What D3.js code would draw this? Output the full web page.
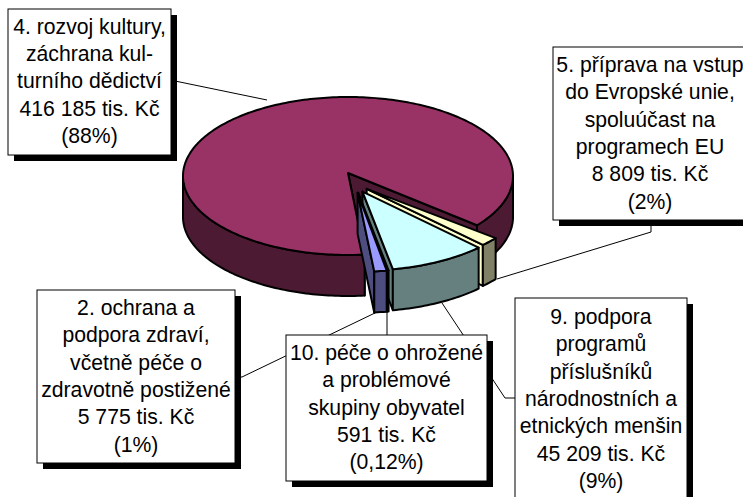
<!DOCTYPE html>
<html><head><meta charset="utf-8">
<script src="https://cdn.jsdelivr.net/npm/d3@7"></script>
<style>html,body{margin:0;padding:0;background:#fff;overflow:hidden}svg{display:block}</style>
</head><body><svg id="c" width="743" height="497"></svg>
<script>
const categories = ["4","5","9","10","2"];
const values = [416185, 8809, 45209, 591, 5775];
const topColors = ["#993366","#ffffcc","#ccffff","#669999","#9999ff"];
const sideColors = ["#4d1a33","#808066","#668080","#335050","#4d4d80"];
const labels = [
 ["4. rozvoj kultury,","záchrana kul-","turního dědictví","416 185 tis. Kč","(88%)"],
 ["5. příprava na vstup","do Evropské unie,","spoluúčast na","programech EU","8 809 tis. Kč","(2%)"],
 ["9. podpora","programů","příslušníků","národnostních a","etnických menšin","45 209 tis. Kč","(9%)"],
 ["10. péče o ohrožené","a problémové","skupiny obyvatel","591 tis. Kč","(0,12%)"],
 ["2. ochrana a","podpora zdraví,","včetně péče o","zdravotně postižené","5 775 tis. Kč","(1%)"]
];

const svg = d3.select("#c");
const cx=348, cy=176, rx=165, ry=79, depth=41;
const rad = d3.scaleLinear().domain([0,360]).range([0,2*Math.PI]);
const start = rad(174.2);
const arcs = d3.pie().sort(null).startAngle(start).endAngle(start+2*Math.PI)(values);
const TAU=2*Math.PI;

function offset(i,mid){
  if(i===0) return [0,0];
  return [7.5+15*Math.sin(mid), 4.5-12.5*Math.cos(mid)];
}
function pt(a,o,dy){return [cx+o[0]+rx*Math.sin(a), cy+o[1]+dy-ry*Math.cos(a)];}
const line = d3.line();
function arcPts(a0,a1,o,dy){
  const n=Math.max(2,Math.ceil((a1-a0)/0.02));
  return d3.range(n+1).map(k=>pt(a0+(a1-a0)*k/n,o,dy));
}
function drawSlice(i){
  const d=arcs[i], shift=i===0?0:TAU;
  const a0=d.startAngle-shift, a1=d.endAngle-shift, mid=(a0+a1)/2, o=offset(i,mid);
  const g=svg.append("g").attr("class","slice").attr("stroke","#000").attr("stroke-width",2).attr("stroke-linejoin","round");
  const apex=[cx+o[0],cy+o[1]-(i===0?3:0)], apexB=[apex[0],apex[1]+depth];
  const wall=(a,col)=>{const p=pt(a,o,0),q=pt(a,o,depth);
    g.append("path").attr("d",line([apex,p,q,apexB])+"Z").attr("fill",col);};
  const rim=(s,e,col)=>{
    const t=arcPts(s,e,o,0), b=arcPts(s,e,o,depth).reverse();
    g.append("path").attr("d",line(t.concat(b))+"Z").attr("fill",col);
  };
  if(i===0){
    wall(a1,sideColors[0]);
    wall(a0,sideColors[0]);
    rim(a0,3*Math.PI/2,sideColors[0]);
    rim(Math.PI/2+TAU,a1,sideColors[0]);
  } else {
    wall(a1,i===1?topColors[1]:sideColors[i]);
    rim(a0,a1,sideColors[i]);
  }
  g.append("path").attr("d",line([apex].concat(arcPts(a0,a1,o,0)))+"Z").attr("fill",topColors[i]);
}

// Leader lines sit behind the boxes
const leaders = [
 [[175,81],[267,100]],
 [[651,226],[651,232],[497,279]],
 [[442,303],[505,398],[515,398]],
 [[387,312],[387,335]],
 [[237,377],[242,377],[377,312]]
];
svg.append("g").selectAll("path").data(leaders).join("path")
  .attr("d",d=>line(d)).attr("fill","none").attr("stroke","#000").attr("stroke-width",1);

[0,1,2,3,4].forEach(drawSlice);

const boxes = [
 {i:0,x:8,y:9,w:163,h:146,t:24.5},
 {i:1,x:553,y:47,w:200,h:173,t:25},
 {i:4,x:37,y:290,w:198,h:173,t:25},
 {i:2,x:515,y:298,w:172,h:210,t:26},
 {i:3,x:286,y:335,w:201,h:146,t:25}
];
const fs=21.2, lh=27.35;
boxes.forEach(b=>{
  const g=svg.append("g").attr("class","label");
  g.append("rect").attr("x",b.x+6).attr("y",b.y+6).attr("width",b.w).attr("height",b.h).attr("fill","#000");
  g.append("rect").attr("x",b.x).attr("y",b.y).attr("width",b.w).attr("height",b.h).attr("fill","#fff").attr("stroke","#000").attr("stroke-width",1);
  const mx=b.i===1? 650 : b.x+b.w/2;
  g.selectAll("text").data(labels[b.i]).join("text")
    .attr("x",mx).attr("y",(d,k)=>b.y+b.t+k*lh)
    .attr("text-anchor","middle").attr("font-family","'Liberation Sans',Arial,sans-serif")
    .attr("font-size",fs).attr("fill","#000").text(d=>d);
});
</script></body></html>
